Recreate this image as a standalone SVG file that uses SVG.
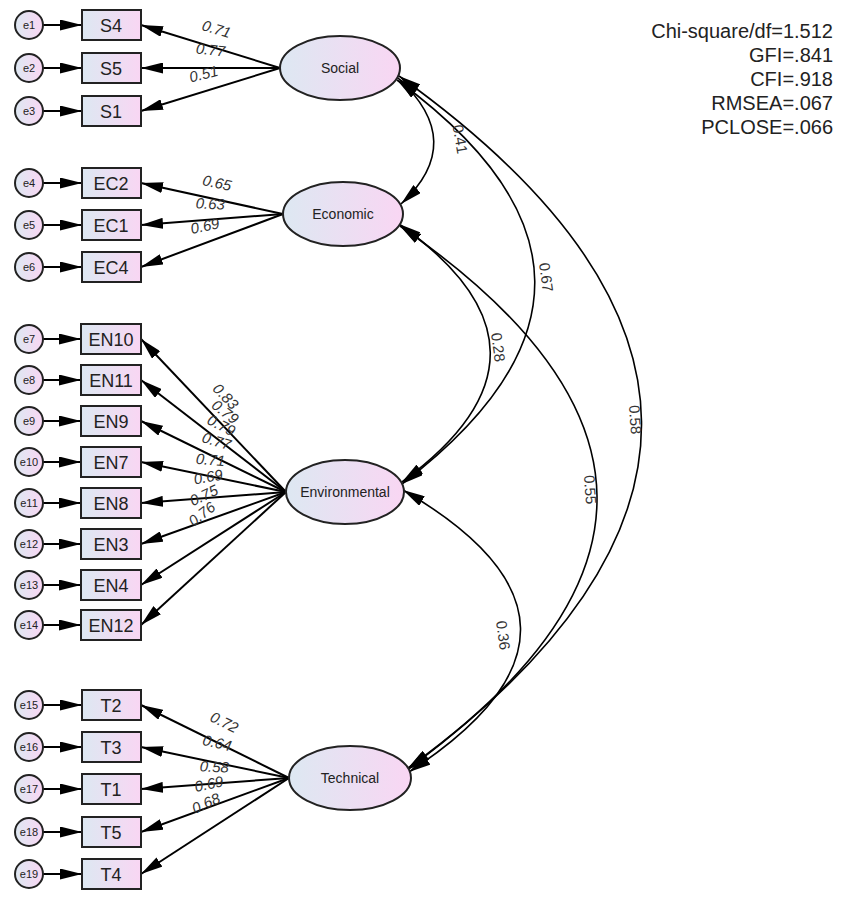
<svg xmlns="http://www.w3.org/2000/svg" width="841" height="899" viewBox="0 0 841 899">
<defs>
<linearGradient id="g" x1="0" y1="0" x2="1" y2="0"><stop offset="0" stop-color="#dde8f2"/><stop offset="1" stop-color="#f9d6f3"/></linearGradient>
<marker id="a" viewBox="0 0 10 10" refX="10" refY="5" markerWidth="22" markerHeight="11" markerUnits="userSpaceOnUse" preserveAspectRatio="none" orient="auto-start-reverse"><path d="M0,0 L10,5 L0,10 z" fill="#000"/></marker>
</defs>
<style>
text{font-family:"Liberation Sans",Arial,sans-serif;fill:#222}
.box{fill:url(#g);stroke:#222;stroke-width:2}
.bt{font-size:18px;text-anchor:middle}
.ec{fill:url(#g);stroke:#222;stroke-width:2}
.et{font-size:11px;text-anchor:middle}
.lv{font-size:14px;text-anchor:middle}
.ln{stroke:#000;stroke-width:2;fill:none;marker-end:url(#a)}
.cv{stroke:#000;stroke-width:1.6;fill:none;marker-start:url(#a);marker-end:url(#a)}
.lb{font-size:15px;text-anchor:middle;font-style:italic;fill:#333}
.cl{font-size:15px;text-anchor:middle;fill:#333}
.fit{font-size:20px;text-anchor:end}
</style>
<g id="connectors">
<path class="ln" d="M43,25H82"/><path class="ln" d="M43,68H82"/><path class="ln" d="M43,111H82"/><path class="ln" d="M43,183H82"/><path class="ln" d="M43,225H82"/><path class="ln" d="M43,267H82"/><path class="ln" d="M43,339H81"/><path class="ln" d="M43,380H81"/><path class="ln" d="M43,421H81"/><path class="ln" d="M43,462H81"/><path class="ln" d="M43,503H81"/><path class="ln" d="M43,544H81"/><path class="ln" d="M43,585H81"/><path class="ln" d="M43,625H81"/><path class="ln" d="M43,705H82"/><path class="ln" d="M43,747H82"/><path class="ln" d="M43,789H82"/><path class="ln" d="M43,832H82"/><path class="ln" d="M43,874H82"/>
<path class="ln" d="M280,68L141,25"/><path class="ln" d="M280,68L141,68"/><path class="ln" d="M280,68L141,111"/>
<path class="ln" d="M283,214L141,183"/><path class="ln" d="M283,214L141,225"/><path class="ln" d="M283,214L141,267"/>
<path class="ln" d="M286,492L141,339"/><path class="ln" d="M286,492L141,380"/><path class="ln" d="M286,492L141,421"/><path class="ln" d="M286,492L141,462"/><path class="ln" d="M286,492L141,503"/><path class="ln" d="M286,492L141,544"/><path class="ln" d="M286,492L141,585"/><path class="ln" d="M286,492L141,625"/>
<path class="ln" d="M289,778L141,705"/><path class="ln" d="M289,778L141,747"/><path class="ln" d="M289,778L141,789"/><path class="ln" d="M289,778L141,832"/><path class="ln" d="M289,778L141,874"/>
<path class="cv" d="M398,78Q468,142 401,204"/>
<path class="cv" d="M397,80Q670,280 402,484"/>
<path class="cv" d="M399,76Q880,420 407,770"/>
<path class="cv" d="M399,224Q580,352 402,482"/>
<path class="cv" d="M400,226Q790,495 408,768"/>
<path class="cv" d="M403,490Q635,625 409,772"/>
<text class="cl" transform="translate(455,140) rotate(80)">0.41</text>
<text class="cl" transform="translate(541,278) rotate(82)">0.67</text>
<text class="cl" transform="translate(630,420) rotate(86)">0.58</text>
<text class="cl" transform="translate(493,348) rotate(82)">0.28</text>
<text class="cl" transform="translate(585,490) rotate(86)">0.55</text>
<text class="cl" transform="translate(498,636) rotate(82)">0.36</text>
<text class="lb" transform="translate(215,34) rotate(17)">0.71</text>
<text class="lb" transform="translate(210,55) rotate(6)">0.77</text>
<text class="lb" transform="translate(205,79) rotate(-14)">0.51</text>
<text class="lb" transform="translate(216,188) rotate(12)">0.65</text>
<text class="lb" transform="translate(210,209) rotate(3)">0.63</text>
<text class="lb" transform="translate(206,231) rotate(-12)">0.69</text>
<text class="lb" transform="translate(222,400) rotate(46)">0.83</text>
<text class="lb" transform="translate(222,416) rotate(38)">0.79</text>
<text class="lb" transform="translate(219,430) rotate(27)">0.79</text>
<text class="lb" transform="translate(215,446) rotate(17)">0.77</text>
<text class="lb" transform="translate(210,465) rotate(5)">0.71</text>
<text class="lb" transform="translate(209,482) rotate(-10)">0.69</text>
<text class="lb" transform="translate(206,500) rotate(-25)">0.75</text>
<text class="lb" transform="translate(205,518) rotate(-38)">0.76</text>
<text class="lb" transform="translate(222,727) rotate(26)">0.72</text>
<text class="lb" transform="translate(216,748) rotate(13)">0.64</text>
<text class="lb" transform="translate(214,772) rotate(3)">0.58</text>
<text class="lb" transform="translate(210,789) rotate(-12)">0.69</text>
<text class="lb" transform="translate(208,808) rotate(-24)">0.68</text>
</g>
<g id="errors">
<circle class="ec" cx="29" cy="25" r="14"/><text class="et" x="29" y="29">e1</text>
<circle class="ec" cx="29" cy="68" r="14"/><text class="et" x="29" y="72">e2</text>
<circle class="ec" cx="29" cy="111" r="14"/><text class="et" x="29" y="115">e3</text>
<circle class="ec" cx="29" cy="183" r="14"/><text class="et" x="29" y="187">e4</text>
<circle class="ec" cx="29" cy="225" r="14"/><text class="et" x="29" y="229">e5</text>
<circle class="ec" cx="29" cy="267" r="14"/><text class="et" x="29" y="271">e6</text>
<circle class="ec" cx="29" cy="339" r="14"/><text class="et" x="29" y="343">e7</text>
<circle class="ec" cx="29" cy="380" r="14"/><text class="et" x="29" y="384">e8</text>
<circle class="ec" cx="29" cy="421" r="14"/><text class="et" x="29" y="425">e9</text>
<circle class="ec" cx="29" cy="462" r="14"/><text class="et" x="29" y="466">e10</text>
<circle class="ec" cx="29" cy="503" r="14"/><text class="et" x="29" y="507">e11</text>
<circle class="ec" cx="29" cy="544" r="14"/><text class="et" x="29" y="548">e12</text>
<circle class="ec" cx="29" cy="585" r="14"/><text class="et" x="29" y="589">e13</text>
<circle class="ec" cx="29" cy="625" r="14"/><text class="et" x="29" y="629">e14</text>
<circle class="ec" cx="29" cy="705" r="14"/><text class="et" x="29" y="709">e15</text>
<circle class="ec" cx="29" cy="747" r="14"/><text class="et" x="29" y="751">e16</text>
<circle class="ec" cx="29" cy="789" r="14"/><text class="et" x="29" y="793">e17</text>
<circle class="ec" cx="29" cy="832" r="14"/><text class="et" x="29" y="836">e18</text>
<circle class="ec" cx="29" cy="874" r="14"/><text class="et" x="29" y="878">e19</text>
</g>
<g id="indicators">
<rect class="box" x="82" y="10" width="59" height="30"/><text class="bt" x="111" y="32">S4</text>
<rect class="box" x="82" y="53" width="59" height="30"/><text class="bt" x="111" y="75">S5</text>
<rect class="box" x="82" y="96" width="59" height="30"/><text class="bt" x="111" y="118">S1</text>
<rect class="box" x="82" y="168" width="59" height="30"/><text class="bt" x="111" y="190">EC2</text>
<rect class="box" x="82" y="210" width="59" height="30"/><text class="bt" x="111" y="232">EC1</text>
<rect class="box" x="82" y="252" width="59" height="30"/><text class="bt" x="111" y="274">EC4</text>
<rect class="box" x="81" y="324" width="60" height="30"/><text class="bt" x="111" y="346">EN10</text>
<rect class="box" x="81" y="365" width="60" height="30"/><text class="bt" x="111" y="387">EN11</text>
<rect class="box" x="81" y="406" width="60" height="30"/><text class="bt" x="111" y="428">EN9</text>
<rect class="box" x="81" y="447" width="60" height="30"/><text class="bt" x="111" y="469">EN7</text>
<rect class="box" x="81" y="488" width="60" height="30"/><text class="bt" x="111" y="510">EN8</text>
<rect class="box" x="81" y="529" width="60" height="30"/><text class="bt" x="111" y="551">EN3</text>
<rect class="box" x="81" y="570" width="60" height="30"/><text class="bt" x="111" y="592">EN4</text>
<rect class="box" x="81" y="610" width="60" height="30"/><text class="bt" x="111" y="632">EN12</text>
<rect class="box" x="82" y="690" width="59" height="30"/><text class="bt" x="111" y="712">T2</text>
<rect class="box" x="82" y="732" width="59" height="30"/><text class="bt" x="111" y="754">T3</text>
<rect class="box" x="82" y="774" width="59" height="30"/><text class="bt" x="111" y="796">T1</text>
<rect class="box" x="82" y="817" width="59" height="30"/><text class="bt" x="111" y="839">T5</text>
<rect class="box" x="82" y="859" width="59" height="30"/><text class="bt" x="111" y="881">T4</text>
</g>
<g id="Social"><ellipse class="box" cx="340" cy="68" rx="60" ry="32"/><text class="lv" x="340" y="73">Social</text></g>
<g id="Economic"><ellipse class="box" cx="343" cy="214" rx="60" ry="32"/><text class="lv" x="343" y="219">Economic</text></g>
<g id="Environmental"><ellipse class="box" cx="345" cy="492" rx="59" ry="32"/><text class="lv" x="345" y="497">Environmental</text></g>
<g id="Technical"><ellipse class="box" cx="350" cy="778" rx="61" ry="32"/><text class="lv" x="350" y="783">Technical</text></g>
<g id="fit">
<text class="fit" x="833" y="38">Chi-square/df=1.512</text>
<text class="fit" x="833" y="62">GFI=.841</text>
<text class="fit" x="833" y="86">CFI=.918</text>
<text class="fit" x="833" y="110">RMSEA=.067</text>
<text class="fit" x="833" y="134">PCLOSE=.066</text>
</g>
</svg>
